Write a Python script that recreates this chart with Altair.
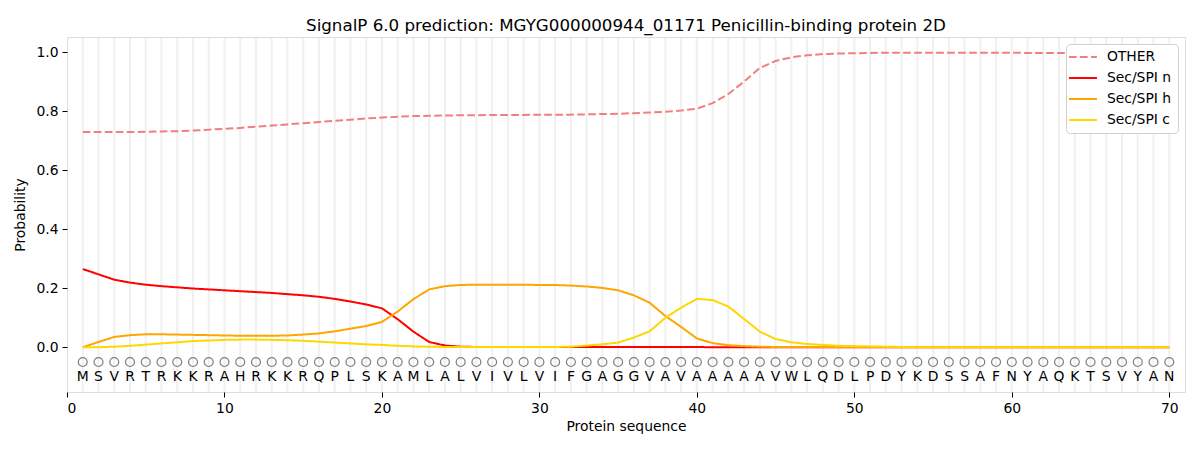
import altair as alt
import pandas as pd

sequence = list("MSVRTRKKRAHRKKRQPLSKAMLALVIVLVIFGAGGVAVAAAAAVWLQDLPDYKDSSAFNYAQKTSVYAN")
positions = list(range(1, 71))

other = [0.729, 0.729, 0.729, 0.729, 0.730, 0.731, 0.732, 0.734, 0.737, 0.740,
         0.743, 0.747, 0.751, 0.755, 0.759, 0.763, 0.767, 0.771, 0.775, 0.778,
         0.781, 0.783, 0.784, 0.785, 0.786, 0.786, 0.787, 0.787, 0.787, 0.788,
         0.788, 0.788, 0.789, 0.790, 0.791, 0.793, 0.795, 0.798, 0.802, 0.808,
         0.827, 0.858, 0.900, 0.946, 0.970, 0.982, 0.989, 0.993, 0.995, 0.996,
         0.997, 0.998, 0.998, 0.998, 0.998, 0.998, 0.998, 0.998, 0.998, 0.998,
         0.997, 0.997, 0.997, 0.997, 0.997, 0.997, 0.997, 0.997, 0.997, 0.997]
sec_n = [0.265, 0.247, 0.229, 0.219, 0.212, 0.207, 0.203, 0.199, 0.196, 0.193,
         0.190, 0.187, 0.184, 0.180, 0.176, 0.171, 0.164, 0.155, 0.145, 0.132,
         0.095, 0.053, 0.018, 0.006, 0.002, 0.001, 0.001, 0.001, 0.001, 0.001,
         0.001, 0.001, 0.001, 0.001, 0.001, 0.001, 0.001, 0.001, 0.001, 0.001,
         0.0, 0.0, 0.0, 0.0, 0.0, 0.0, 0.0, 0.0, 0.0, 0.0,
         0.0, 0.0, 0.0, 0.0, 0.0, 0.0, 0.0, 0.0, 0.0, 0.0,
         0.0, 0.0, 0.0, 0.0, 0.0, 0.0, 0.0, 0.0, 0.0, 0.0]
sec_h = [0.0, 0.018, 0.035, 0.041, 0.044, 0.044, 0.043, 0.042, 0.041, 0.040,
         0.039, 0.039, 0.039, 0.040, 0.043, 0.047, 0.054, 0.063, 0.072, 0.086,
         0.121, 0.163, 0.196, 0.207, 0.211, 0.212, 0.212, 0.212, 0.212, 0.211,
         0.211, 0.209, 0.206, 0.201, 0.193, 0.176, 0.151, 0.106, 0.069, 0.030,
         0.014, 0.007, 0.004, 0.002, 0.001, 0.001, 0.001, 0.001, 0.001, 0.001,
         0.001, 0.001, 0.001, 0.001, 0.001, 0.001, 0.001, 0.001, 0.001, 0.001,
         0.001, 0.001, 0.001, 0.001, 0.001, 0.001, 0.001, 0.001, 0.001, 0.001]
sec_c = [0.0, 0.0, 0.002, 0.005, 0.009, 0.013, 0.017, 0.021, 0.023, 0.025,
         0.026, 0.026, 0.025, 0.024, 0.022, 0.019, 0.016, 0.013, 0.010, 0.008,
         0.005, 0.003, 0.002, 0.001, 0.001, 0.001, 0.001, 0.001, 0.001, 0.001,
         0.001, 0.002, 0.006, 0.010, 0.016, 0.033, 0.054, 0.100, 0.134, 0.164,
         0.160, 0.138, 0.096, 0.053, 0.028, 0.017, 0.011, 0.008, 0.005, 0.004,
         0.003, 0.002, 0.001, 0.0, 0.0, 0.0, 0.0, 0.0, 0.0, 0.0,
         0.0, 0.0, 0.0, 0.0, 0.0, 0.0, 0.0, 0.0, 0.0, 0.0]

series_names = ["OTHER", "Sec/SPI n", "Sec/SPI h", "Sec/SPI c"]
series_colors = ["#f08080", "#ff0000", "#ffa500", "#ffd700"]
series_dash = [[7.7, 3.3], [1, 0], [1, 0], [1, 0]]
x_ticks = [0, 10, 20, 30, 40, 50, 60, 70]
y_ticks = [0.0, 0.2, 0.4, 0.6, 0.8, 1.0]

rows = []
for name, vals in zip(series_names, [other, sec_n, sec_h, sec_c]):
    for p, v in zip(positions, vals):
        rows.append({"pos": p, "prob": v, "series": name,
                     "order": series_names.index(name)})
lines_df = pd.DataFrame(rows)
seq_df = pd.DataFrame({"pos": positions, "aa": sequence,
                       "circ_y": [-0.05] * len(positions),
                       "txt_y": [-0.1] * len(positions)})

FONT = "DejaVu Sans"
xscale = alt.Scale(domain=[0, 71], nice=False, zero=False)
yscale = alt.Scale(domain=[-0.1515, 1.051], nice=False, zero=False)

legend_props = dict(
    title=None, orient="top-right", offset=7, fillColor="white",
    strokeColor="#d0d0d0", cornerRadius=4, padding=6, labelFont=FONT,
    labelFontSize=13.9, labelColor="black", symbolType="M-2.8,0L2.8,0",
    symbolSize=100, symbolStrokeWidth=2, rowPadding=6, labelOffset=17,
    symbolOffset=4,
)

grid = alt.Chart(seq_df).mark_rule(color="#d3d3d3", opacity=0.35, strokeWidth=2).encode(
    x=alt.X("pos:Q", scale=xscale,
            axis=alt.Axis(values=x_ticks, grid=False, domain=False, format="d",
                          tickColor="black", tickSize=5, labelPadding=4,
                          labelFontSize=13.9, labelFont=FONT, labelColor="black",
                          title="Protein sequence", titleFont=FONT,
                          titleFontSize=13.9, titleFontWeight="normal",
                          titleColor="black", titlePadding=5)),
)

lines = alt.Chart(lines_df).mark_line(strokeWidth=2).encode(
    x=alt.X("pos:Q", scale=xscale),
    y=alt.Y("prob:Q", scale=yscale,
            axis=alt.Axis(values=y_ticks, grid=False, domain=False, format=".1f",
                          tickColor="black", tickSize=5, labelPadding=4,
                          labelFontSize=13.9, labelFont=FONT, labelColor="black",
                          title="Probability", titleFont=FONT,
                          titleFontSize=13.9, titleFontWeight="normal",
                          titleColor="black", titlePadding=8)),
    color=alt.Color("series:N", sort=series_names,
                    scale=alt.Scale(domain=series_names, range=series_colors),
                    legend=alt.Legend(**legend_props)),
    strokeDash=alt.StrokeDash("series:N", sort=series_names,
                              scale=alt.Scale(domain=series_names, range=series_dash),
                              legend=alt.Legend(**legend_props)),
    detail="series:N",
    order="order:Q",
)

circles = alt.Chart(seq_df).mark_point(shape="circle", filled=False, size=80,
                                       color="#808080", strokeWidth=1.2, opacity=1).encode(
    x=alt.X("pos:Q", scale=xscale),
    y=alt.Y("circ_y:Q", scale=yscale),
)

letters = alt.Chart(seq_df).mark_text(fontSize=13.9, font=FONT, color="black",
                                      baseline="middle", align="center", dy=0).encode(
    x=alt.X("pos:Q", scale=xscale),
    y=alt.Y("txt_y:Q", scale=yscale),
    text="aa:N",
)

chart = alt.layer(grid, lines, circles, letters).properties(
    width=1118, height=355,
    autosize=alt.AutoSizeParams(type="none"),
    padding={"left": 59, "top": 29, "right": 7, "bottom": 50},
    title=alt.TitleParams(
        "SignalP 6.0 prediction: MGYG000000944_01171 Penicillin-binding protein 2D",
        font=FONT, fontSize=16.7, fontWeight="normal", color="black", offset=1),
).configure_view(stroke="black", strokeWidth=1.2).configure(background="white")

chart.save("out.html", embed_options={"renderer": "svg", "actions": False})
